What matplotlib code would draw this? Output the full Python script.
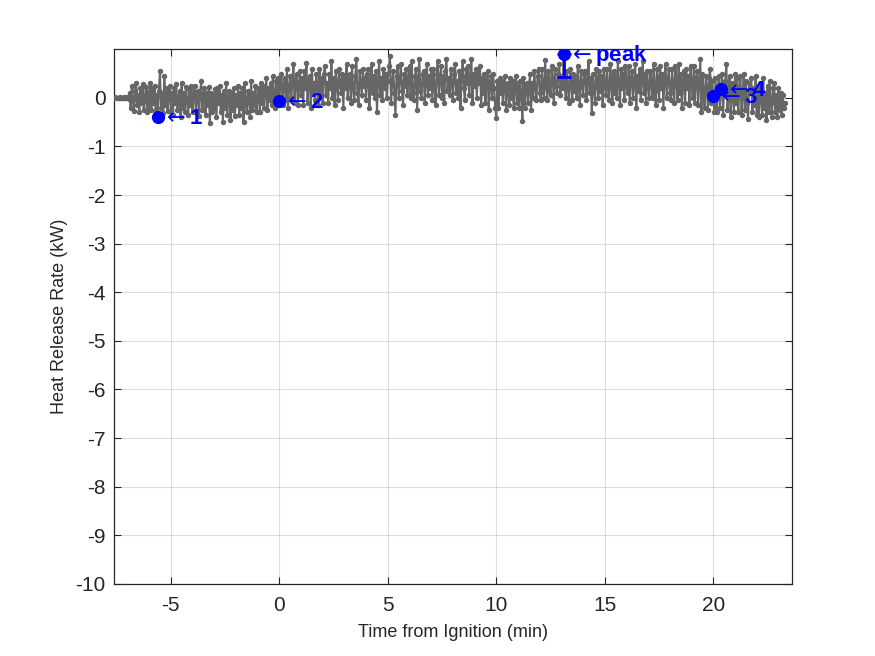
import numpy as np
import matplotlib
matplotlib.use("Agg")
import matplotlib.pyplot as plt

plt.rcParams['font.family'] = ['Liberation Sans', 'DejaVu Sans']
plt.rcParams['axes.unicode_minus'] = False

# ---- data ----
t_start = -7.6          # min
t_step = 0.05           # min
hrr = [
    # -7.6 .. -6.95 flat baseline
    0.0, 0.01, 0.0, -0.01, 0.0, 0.01, 0.0, 0.0, -0.01, 0.01, 0.0, 0.0, 0.01, -0.02,
    # -6.9 .. -5.95
    0.1, -0.2, 0.25, -0.05, -0.28, 0.15, 0.3, -0.15, 0.05, -0.3, 0.2, -0.1, 0.28, -0.25, 0.0, 0.22, -0.3, 0.12, -0.18, 0.3,
    # -5.9 .. -4.95
    -0.25, 0.2, -0.1, 0.25, -0.3, 0.05, -0.39, 0.15, 0.55, -0.2, 0.1, -0.32, 0.45, -0.15, 0.2, -0.28, 0.05, 0.25, -0.3, 0.1,
    # -4.9 .. -3.95
    -0.35, 0.2, -0.1, 0.28, -0.25, 0.0, 0.15, -0.4, 0.3, -0.2, 0.1, -0.3, 0.22, -0.05, -0.35, 0.18, -0.15, 0.25, -0.3, 0.05,
    # -3.9 .. -2.95
    0.25, -0.3, 0.0, 0.15, -0.38, 0.1, 0.35, -0.25, -0.05, 0.2, -0.35, 0.1, -0.15, 0.22, -0.52, 0.1, -0.3, 0.05, -0.2, 0.18,
    # -2.9 .. -1.95
    -0.4, 0.2, -0.1, 0.25, -0.3, 0.05, -0.5, 0.15, -0.2, 0.3, -0.35, 0.0, 0.15, -0.45, 0.1, -0.25, 0.2, -0.38, 0.05, -0.15,
    # -1.9 .. -0.95
    0.25, -0.35, 0.1, -0.2, 0.2, -0.5, 0.3, -0.1, -0.3, 0.15, 0.05, -0.4, 0.35, -0.25, 0.1, -0.15, 0.25, -0.3, 0.0, 0.2,
    # -0.9 .. 0.05
    -0.3, 0.3, -0.1, 0.25, -0.2, 0.1, 0.4, -0.25, 0.2, -0.05, 0.3, -0.15, 0.45, 0.05, -0.2, 0.35, -0.1, 0.4, -0.06, 0.3,
    # 0.1 .. 1.05
    0.5, -0.15, 0.25, 0.4, -0.05, 0.6, -0.2, 0.2, 0.45, 0.0, 0.3, 0.7, -0.1, 0.35, 0.5, -0.15, 0.2, 0.55, 0.05, 0.4,
    # 1.1 .. 2.05
    -0.15, 0.55, 0.2, 0.72, -0.1, 0.35, 0.45, -0.2, 0.6, 0.1, 0.3, -0.05, 0.5, 0.25, -0.15, 0.6, 0.15, 0.4, -0.1, 0.5,
    # 2.1 .. 3.05
    0.65, 0.05, 0.3, -0.1, 0.5, 0.2, 0.75, 0.0, 0.4, -0.15, 0.55, 0.25, -0.05, 0.6, 0.3, 0.1, 0.5, -0.2, 0.45, 0.2,
    # 3.1 .. 4.05
    0.7, 0.0, 0.35, 0.5, -0.1, 0.65, 0.2, -0.05, 0.45, 0.8, 0.1, -0.15, 0.55, 0.3, 0.05, 0.6, 0.25, 0.4, -0.05, 0.5,
    # 4.1 .. 5.05
    0.6, -0.2, 0.3, 0.7, 0.1, 0.45, 0.0, 0.55, -0.3, 0.35, 0.75, 0.05, 0.4, -0.05, 0.6, 0.2, 0.5, 0.0, 0.35, 0.65,
    # 5.1 .. 6.05
    0.85, -0.1, 0.3, 0.55, 0.1, -0.35, 0.45, 0.65, 0.0, 0.35, 0.7, 0.15, -0.15, 0.5, 0.25, 0.6, 0.05, 0.4, 0.65, 0.0,
    # 6.1 .. 7.05
    0.75, 0.1, -0.05, 0.45, 0.6, -0.25, 0.3, 0.8, 0.15, 0.0, 0.5, 0.55, -0.1, 0.35, 0.7, 0.05, 0.45, 0.2, 0.6, -0.05,
    # 7.1 .. 8.05
    0.6, 0.25, -0.15, 0.5, 0.75, 0.05, 0.35, 0.65, 0.0, 0.45, -0.1, 0.55, 0.8, 0.15, 0.4, 0.05, 0.6, 0.3, -0.05, 0.5,
    # 8.1 .. 9.05
    0.7, 0.1, 0.35, 0.0, 0.55, -0.2, 0.45, 0.75, 0.2, -0.05, 0.6, 0.3, 0.65, 0.05, 0.4, 0.8, -0.1, 0.5, 0.25, 0.6,
    # 9.1 .. 10.05
    0.0, 0.6, 0.3, 0.65, -0.15, 0.4, 0.1, 0.5, -0.1, 0.35, 0.55, -0.25, 0.3, 0.45, 0.0, 0.5, 0.2, -0.2, -0.41, 0.35,
    # 10.1 .. 11.05
    -0.2, 0.4, 0.1, 0.35, -0.1, 0.25, 0.45, -0.25, 0.15, 0.3, -0.15, 0.4, 0.0, 0.35, -0.2, 0.2, 0.45, -0.1, 0.3, -0.2,
    # 11.1 .. 12.05
    0.35, 0.1, -0.48, 0.4, -0.2, 0.25, 0.3, -0.1, 0.15, 0.5, -0.25, 0.3, 0.0, 0.55, 0.2, -0.05, 0.45, 0.6, 0.1, -0.05,
    # 12.1 .. 13.05
    0.6, 0.2, 0.0, 0.78, 0.3, -0.05, 0.55, 0.15, 0.05, 0.65, 0.4, -0.1, 0.6, 0.25, 0.1, 0.5, 0.7, 0.05, 0.45, 0.2,
    # 13.1 .. 14.05
    0.9, 0.3, 0.0, 0.55, 0.2, -0.1, 0.6, 0.35, -0.05, 0.5, 0.15, 0.45, 0.0, 0.65, 0.25, -0.15, 0.55, 0.3, 0.05, 0.5,
    # 14.1 .. 15.05
    0.55, -0.05, 0.3, 0.75, 0.1, 0.4, -0.32, 0.5, 0.2, -0.1, 0.6, 0.35, 0.0, 0.55, 0.15, 0.45, -0.15, 0.6, 0.25, 0.05,
    # 15.1 .. 16.05
    0.6, 0.2, -0.05, 0.7, 0.35, -0.1, 0.55, 0.1, 0.45, 0.0, 0.75, 0.3, -0.15, 0.6, 0.2, 0.5, -0.05, 0.65, 0.25, 0.1,
    # 16.1 .. 17.05
    0.65, -0.1, 0.4, 0.55, 0.0, 0.3, 0.7, -0.2, 0.45, 0.15, 0.6, -0.05, 0.35, 0.75, 0.1, 0.5, -0.1, 0.55, 0.25, 0.0,
    # 17.1 .. 18.05
    0.55, 0.3, 0.0, 0.7, 0.15, -0.15, 0.6, 0.4, -0.05, 0.65, 0.2, 0.5, -0.2, 0.45, 0.7, 0.0, 0.35, 0.6, 0.1, -0.05,
    # 18.1 .. 19.05
    0.6, 0.25, -0.1, 0.65, 0.4, -0.05, 0.7, 0.1, 0.5, -0.2, 0.35, 0.55, -0.1, 0.6, 0.2, 0.45, -0.15, 0.65, 0.3, 0.0,
    # 19.1 .. 20.05
    0.65, -0.1, 0.4, 0.55, -0.15, 0.3, 0.79, -0.3, 0.5, 0.1, -0.2, 0.45, 0.25, -0.25, 0.4, 0.6, -0.1, 0.35, 0.04, -0.3,
    # 20.1 .. 21.05
    0.4, -0.3, 0.1, 0.45, -0.2, 0.18, 0.5, -0.35, 0.2, 0.35, 0.69, -0.25, 0.0, 0.45, -0.4, 0.3, 0.1, -0.3, 0.5, -0.1,
    # 21.1 .. 22.05
    0.4, -0.3, 0.2, 0.45, -0.35, 0.05, 0.5, -0.25, 0.35, -0.1, -0.44, 0.3, 0.1, 0.4, -0.3, 0.2, -0.15, 0.45, -0.35, 0.25,
    # 22.1 .. 23.05
    -0.4, 0.3, 0.0, -0.35, 0.4, -0.2, 0.1, -0.45, 0.25, -0.3, 0.35, -0.1, -0.4, 0.2, 0.3, -0.3, 0.05, -0.4, 0.2, -0.25,
    # 23.1 .. 23.3
    0.1, -0.35, 0.05, -0.2, -0.1,
]

event_t = [-5.6, 0.0, 20.0, 20.35]
event_v = [-0.39, -0.06, 0.04, 0.18]
event_labels = ['1', '2', '3', '4']

peak_t = 13.1
peak_v = 0.9
peak_low = 0.43
peak_label = 'peak'

xlim = (-7.63, 23.62)
ylim = (-10, 1)
xticks = [-5, 0, 5, 10, 15, 20]
yticks = list(range(-10, 1))

# ---- plot ----
t = t_start + t_step * np.arange(len(hrr))

fig = plt.figure(figsize=(8.75, 6.56), dpi=100)
ax = fig.add_axes([0.13, 0.11, 0.775, 0.815])

dark = (0.15, 0.15, 0.15)
gray = (0.4, 0.4, 0.4)
ax.plot(t, hrr, '-o', color=gray, lw=1.5, ms=2.9,
        mfc=gray, mec=gray, zorder=3)

blue = (0, 0, 1)
ax.plot(event_t, event_v, 'o', color=blue, ms=8.5, zorder=5)
ax.errorbar([peak_t], [peak_v], yerr=[[peak_v - peak_low], [0]],
            fmt='o', color=blue, ms=8.5, lw=2.0, capsize=4.7,
            capthick=2.0, zorder=5)

for x, y, lab in zip(event_t, event_v, event_labels):
    ax.annotate(r'$\leftarrow$' + lab, (x, y), xytext=(3, -1),
                textcoords='offset points', ha='left', va='center',
                color=blue, fontsize=16, fontweight='bold', zorder=6)
ax.annotate(r'$\leftarrow$' + peak_label, (peak_t, peak_v), xytext=(3, -1),
            textcoords='offset points', ha='left', va='center',
            color=blue, fontsize=16, fontweight='bold', zorder=6)

ax.set_xlim(*xlim)
ax.set_ylim(*ylim)
ax.set_xticks(xticks)
ax.set_yticks(yticks)
ax.grid(True, color=(0.15, 0.15, 0.15), alpha=0.15, lw=0.8)
ax.set_axisbelow(True)

ax.tick_params(direction='in', length=5, width=0.8, colors=dark,
               labelsize=15, top=True, right=True)
ax.tick_params(axis='x', pad=9)
ax.tick_params(axis='y', pad=6)
for s in ax.spines.values():
    s.set_color(dark)
    s.set_linewidth(0.9)

ax.set_xlabel('Time from Ignition (min)', fontsize=13, color=dark, labelpad=6)
ax.set_ylabel('Heat Release Rate (kW)', fontsize=13, color=dark, labelpad=5)

fig.savefig('out.png', dpi=100)
